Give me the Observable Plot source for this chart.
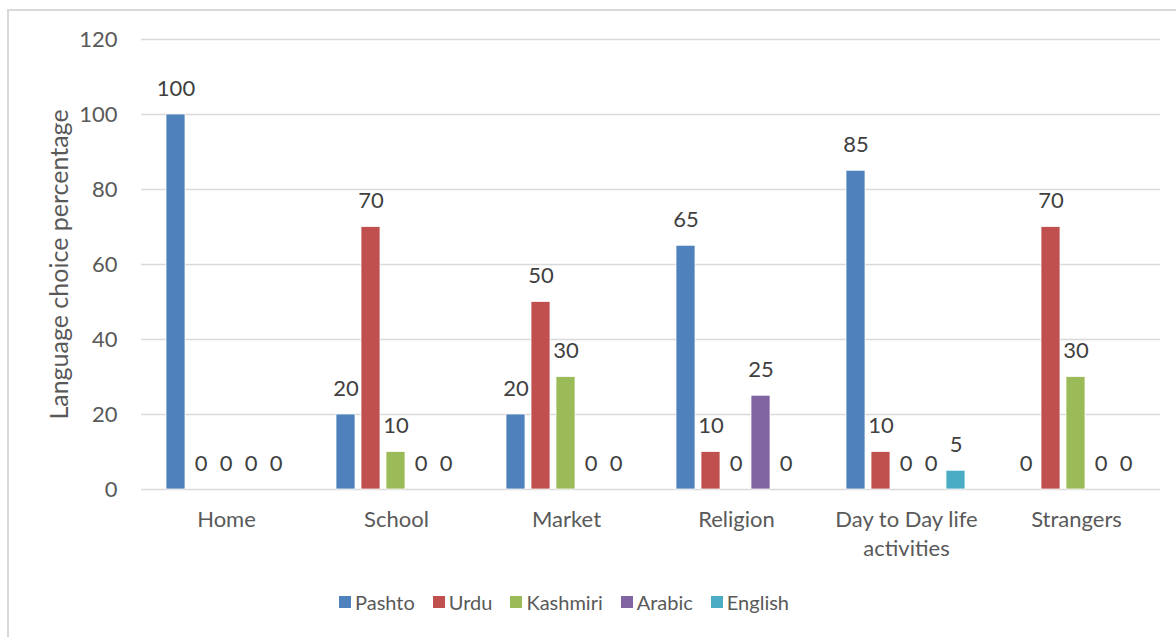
<!DOCTYPE html>
<html><head><meta charset="utf-8">
<script src="https://cdn.jsdelivr.net/npm/d3@7"></script>
<script src="https://cdn.jsdelivr.net/npm/@observablehq/plot@0.6"></script>
<style>
body{margin:0;background:#fff;font-family:Lato,sans-serif}
#wrap{position:relative;width:1176px;height:637px;overflow:hidden;background:#fff}
#frame{position:absolute;left:7px;top:9px;right:-10px;bottom:-10px;border-left:2px solid #d9d9d9;border-top:2px solid #d9d9d9}
#grid,#chart{position:absolute;left:0;top:0}
#legend{position:absolute;left:339px;top:590px;height:24px;display:flex;align-items:center;font-size:20px;color:#595959;white-space:nowrap}
.item{display:flex;align-items:center;margin-right:18px}
.sw{width:12px;height:12px;margin-right:4px}
</style></head><body>
<div id="wrap"><div id="frame"></div><div id="grid"></div><div id="chart"></div><div id="legend"></div></div>
<script>
const categories = ["Home","School","Market","Religion","Day to Day life activities","Strangers"];
const categoryLabels = ["Home","School","Market","Religion","Day to Day life\nactivities","Strangers"];
const languages = ["Pashto","Urdu","Kashmiri","Arabic","English"];
const pashto   = [100,20,20,65,85,0];
const urdu     = [0,70,50,10,10,70];
const kashmiri = [0,10,30,0,0,30];
const arabic   = [0,0,0,25,0,0];
const english  = [0,0,0,0,5,0];
const colors = ["#4F81BD","#C0504D","#9BBB59","#8064A2","#4BACC6"];
const yTicks = [0,20,40,60,80,100,120];
const yLabel = "Language choice percentage";

const series = [pashto, urdu, kashmiri, arabic, english];
const data = categories.flatMap((c,i) => languages.map((l,j) => ({category:c, language:l, value:series[j][i]})));
const labelOf = new Map(categories.map((c,i)=>[c, categoryLabels[i]]));

const common = {
  width:1176, height:575,
  marginLeft:141, marginRight:16, marginTop:39, marginBottom:86,
  style:{fontFamily:"Lato, sans-serif", fontSize:"22px", color:"#595959", background:"transparent"},
  y:{domain:[0,120], axis:null}
};

const grid = Plot.plot({
  ...common,
  marks:[
    Plot.ruleY(yTicks, {y:d=>d, stroke:"#d9d9d9", strokeWidth:1.5}),
    Plot.axisY(yTicks, {tickSize:0, tickPadding:24, fontSize:22, fill:"#595959", label:null}),
    Plot.text([yLabel], {text:d=>d, frameAnchor:"left", textAnchor:"middle", lineAnchor:"middle", rotate:-90, dx:-82, fontSize:25, fill:"#595959"})
  ]
});
document.getElementById("grid").appendChild(grid);

const chart = Plot.plot({
  ...common,
  fx:{domain:categories, paddingInner:0.271, paddingOuter:0.13, axis:null, label:null},
  x:{domain:languages, paddingInner:0.23, paddingOuter:0, axis:null, label:null},
  color:{domain:languages, range:colors},
  marks:[
    Plot.barY(data, {fx:"category", x:"language", y:"value", fill:"language", stroke:"white", strokeWidth:0.75}),
    Plot.text(data, {fx:"category", x:"language", y:"value", text:d=>String(d.value), lineAnchor:"middle", dy:-26, fill:"#404040", fontSize:22}),
    Plot.text(categories, {fx:d=>d, text:d=>labelOf.get(d), frameAnchor:"bottom", lineAnchor:"top", dy:16, lineHeight:1.35, fontSize:22, fill:"#595959"})
  ]
});
document.getElementById("chart").appendChild(chart);

const legend = document.getElementById("legend");
languages.forEach((l,i)=>{
  const it = document.createElement("div"); it.className="item";
  const sw = document.createElement("div"); sw.className="sw"; sw.style.background=colors[i];
  const t = document.createElement("span"); t.textContent=l;
  it.appendChild(sw); it.appendChild(t); legend.appendChild(it);
});
</script>
</body></html>
